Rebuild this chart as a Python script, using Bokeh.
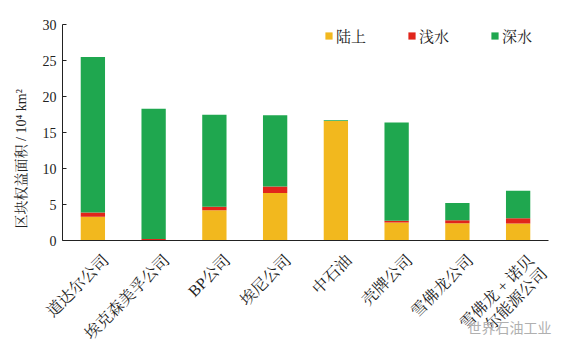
from bokeh.plotting import figure
from bokeh.layouts import column
from bokeh.models import (ColumnDataSource, FactorRange, Range1d, Legend, LegendItem, Label,
                          FixedTicker, Title, LinearAxis)
from bokeh.core.properties import value
from bokeh.embed import file_html
from bokeh.resources import INLINE
import math

companies = ["道达尔公司", "埃克森美孚公司", "BP公司", "埃尼公司", "中石油", "壳牌公司", "雪佛龙公司", "雪佛龙 + 诺贝\n尔能源公司"]
onshore = [3.3, 0.0, 4.2, 6.6, 16.6, 2.5, 2.4, 2.35]
shallow = [0.6, 0.2, 0.5, 0.9, 0.0, 0.25, 0.4, 0.75]
deep = [21.6, 18.1, 12.75, 9.9, 0.1, 13.65, 2.4, 3.8]
series = ["陆上", "浅水", "深水"]
colors = ["#F2B81E", "#E1251B", "#1FA74F"]
yticks = [0, 5, 10, 15, 20, 25, 30]
ytitle = "区块权益面积 / 10⁴ km²"
watermark = "世界石油工业"

FONT = "Liberation Serif, Noto Serif CJK SC, Noto Sans CJK SC"
TXT = "#222222"

W, LEFT, RIGHT = 570, 62, 22
TOP_H, BOT_H = 248, 105
UNIT = (W - LEFT - RIGHT) / len(companies)

src = ColumnDataSource(dict(x=companies, pos=[i + 0.5 for i in range(len(companies))],
                            陆上=onshore, 浅水=shallow, 深水=deep))

# ---- main chart ----
p = figure(width=W, height=TOP_H, x_range=FactorRange(*companies), y_range=Range1d(0, 30),
           output_backend="svg", toolbar_location=None, x_axis_type=None,
           min_border_left=LEFT, min_border_right=RIGHT, min_border_top=24, min_border_bottom=8)
p.frame_align = False

rs = p.vbar_stack(series, x="x", width=0.4, color=colors, source=src, line_width=0)

p.xgrid.grid_line_color = None
p.ygrid.grid_line_color = None
p.outline_line_color = None

p.add_layout(LinearAxis(ticker=FixedTicker(ticks=[]), axis_line_color=TXT,
                        major_tick_line_color=None, minor_tick_line_color=None), "below")

p.yaxis.ticker = FixedTicker(ticks=yticks)
p.yaxis.major_tick_in = 4
p.yaxis.major_tick_out = 0
p.yaxis.minor_tick_line_color = None
p.yaxis.axis_line_color = TXT
p.yaxis.major_tick_line_color = TXT
p.yaxis.major_label_text_font = FONT
p.yaxis.major_label_text_font_size = "14px"
p.yaxis.major_label_text_color = TXT
p.yaxis.major_label_standoff = 6

p.add_layout(Title(text=ytitle, align="left", offset=12, standoff=22,
                   text_font=FONT, text_font_size="14px", text_font_style="normal",
                   text_color=TXT), "left")

legend = Legend(items=[LegendItem(label=s, renderers=[r]) for s, r in zip(series, rs)],
                orientation="horizontal", location=(262, 194),
                glyph_width=9, glyph_height=9, label_standoff=3, spacing=41,
                label_text_font=FONT, label_text_font_size="15px", label_text_color=TXT,
                border_line_color=None, background_fill_alpha=0, margin=0, padding=4)
p.add_layout(legend)

# ---- category labels strip (same horizontal scale as the chart) ----
q = figure(width=W, height=BOT_H, x_range=Range1d(-LEFT / UNIT, len(companies) + RIGHT / UNIT),
           y_range=Range1d(0, BOT_H), output_backend="svg", toolbar_location=None,
           min_border_left=0, min_border_right=0, min_border_top=0, min_border_bottom=0,
           x_axis_type=None, y_axis_type=None)
q.frame_align = False
q.grid.visible = False
q.outline_line_color = None

q.text(x="pos", y=BOT_H - 3, text="x", source=src, angle=math.pi / 4,
       x_offset=7, text_align="right", text_baseline="top",
       text_font=value(FONT), text_font_size="16px", text_color=TXT, text_line_height=1.1)

q.add_layout(Label(x=467, y=17, x_units="screen", y_units="screen", text=watermark,
                   text_font="Noto Sans CJK SC", text_font_size="14px", text_color="#b0b0b0"))

layout = column(p, q, spacing=0)
open("out.html", "w").write(file_html(layout, INLINE))
